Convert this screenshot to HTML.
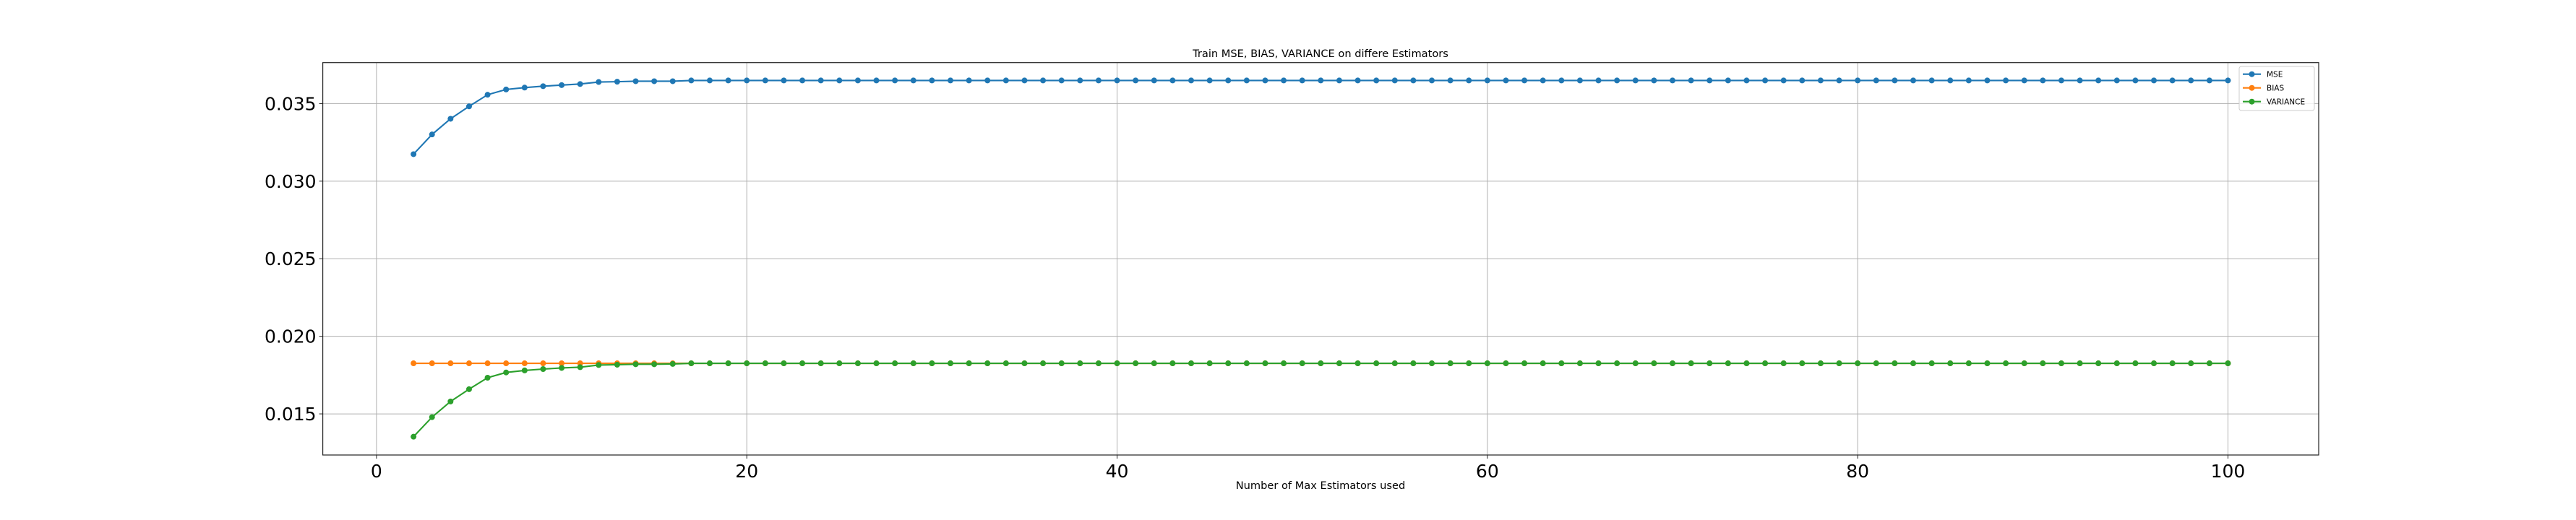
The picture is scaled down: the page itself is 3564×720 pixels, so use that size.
<!DOCTYPE html>
<html><head><meta charset="utf-8"><style>
html,body{margin:0;padding:0;background:#fff;width:3564px;height:720px;overflow:hidden}
svg{display:block;font-family:"DejaVu Sans","Liberation Sans",sans-serif}
</style></head><body>
<svg id="chart" width="3564" height="720" xmlns="http://www.w3.org/2000/svg">
<g id="grid"></g>
<g id="series"></g>
<rect x="446.6" y="86.7" width="2761.4" height="543.3" fill="none" stroke="#222" stroke-width="1.2"/>
<g id="ticks"></g>
<text x="1827" y="79" font-size="14.6" text-anchor="middle">Train MSE, BIAS, VARIANCE on differe Estimators</text>
<text x="1827" y="677" font-size="14.6" text-anchor="middle">Number of Max Estimators used</text>
<g id="legend">
<rect x="3098" y="92" width="104" height="61" rx="3" fill="#fff" fill-opacity="0.8" stroke="#ccc"/>
</g>
</svg>
<script>
const xs = [];
for (let i = 2; i <= 100; i++) xs.push(i);
const mseHead = [0.03174,0.03301,0.03402,0.03482,0.03557,0.03591,0.03603,0.03612,0.03619,0.03626,0.03639,0.03641,0.03644,0.03644,0.03644];
const mseTail = 0.03649;
const biasVal = 0.01826;
const varHead = [0.01353,0.01479,0.01580,0.01659,0.01733,0.01767,0.01780,0.01789,0.01796,0.01801,0.01815,0.01817,0.01820,0.01820,0.01822];
const varTail = 0.01826;
const xTicks = [0,20,40,60,80,100];
const yTicks = [0.015,0.020,0.025,0.030,0.035];
const seriesNames = ["MSE","BIAS","VARIANCE"];
const colors = ["#1f77b4","#ff7f0e","#2ca02c"];

const mse = xs.map((x,i)=> i<mseHead.length ? mseHead[i] : mseTail);
const bias = xs.map(()=>biasVal);
const variance = xs.map((x,i)=> i<varHead.length ? varHead[i] : varTail);

const L=446.6,R=3208,T=86.7,B=630;
const xMin=-2.9,xMax=104.9,yMin=0.01235,yMax=0.03764;
const sx=v=>L+(v-xMin)/(xMax-xMin)*(R-L);
const sy=v=>B-(v-yMin)/(yMax-yMin)*(B-T);
const NS="http://www.w3.org/2000/svg";
function mk(tag,attrs,parent){const e=document.createElementNS(NS,tag);for(const k in attrs)e.setAttribute(k,attrs[k]);parent.appendChild(e);return e;}
const grid=document.getElementById('grid'),ticks=document.getElementById('ticks'),ser=document.getElementById('series'),leg=document.getElementById('legend');

xTicks.forEach(t=>{
  const g=mk('line',{x1:sx(t),x2:sx(t),y1:T,y2:B,stroke:'#b0b0b0','stroke-width':1},grid);
  
  
  const tk=mk('line',{x1:sx(t),x2:sx(t),y1:B,y2:B+5,stroke:'#222','stroke-width':1},ticks);
  
  
  const tx=mk('text',{x:sx(t),y:B+31,'font-size':25,'text-anchor':'middle'},ticks);
  tx.textContent=t;
  
  
});
yTicks.forEach(t=>{
  const g=mk('line',{x1:L,x2:R,y1:sy(t),y2:sy(t),stroke:'#b0b0b0','stroke-width':1},grid);
  
  
  const tk=mk('line',{x1:L-5,x2:L,y1:sy(t),y2:sy(t),stroke:'#222','stroke-width':1},ticks);
  
  
  const tx=mk('text',{x:L-9,y:sy(t)+9,'font-size':25,'text-anchor':'end'},ticks);
  tx.textContent=t.toFixed(3);
  
  
});

[mse,bias,variance].forEach((arr,si)=>{
  const g=mk('g',{},ser);
  
  
  const pl=mk('polyline',{points:arr.map((v,i)=>sx(xs[i])+','+sy(v)).join(' '),fill:'none',stroke:colors[si],'stroke-width':2.1},g);
  
  
  arr.forEach((v,i)=>{
    const c=mk('circle',{cx:sx(xs[i]),cy:sy(v),r:4,fill:colors[si]},g);
    
    
  });
});

seriesNames.forEach((n,i)=>{
  const y=102.7+i*19;
  const g=mk('g',{},leg);
  
  
  mk('line',{x1:3103,x2:3128,y1:y,y2:y,stroke:colors[i],'stroke-width':2.1},g);
  mk('circle',{cx:3115.5,cy:y,r:4,fill:colors[i]},g);
  const t=mk('text',{x:3136,y:y+4,'font-size':10.5},g);
  t.textContent=n;
});
</script>
</body></html>
